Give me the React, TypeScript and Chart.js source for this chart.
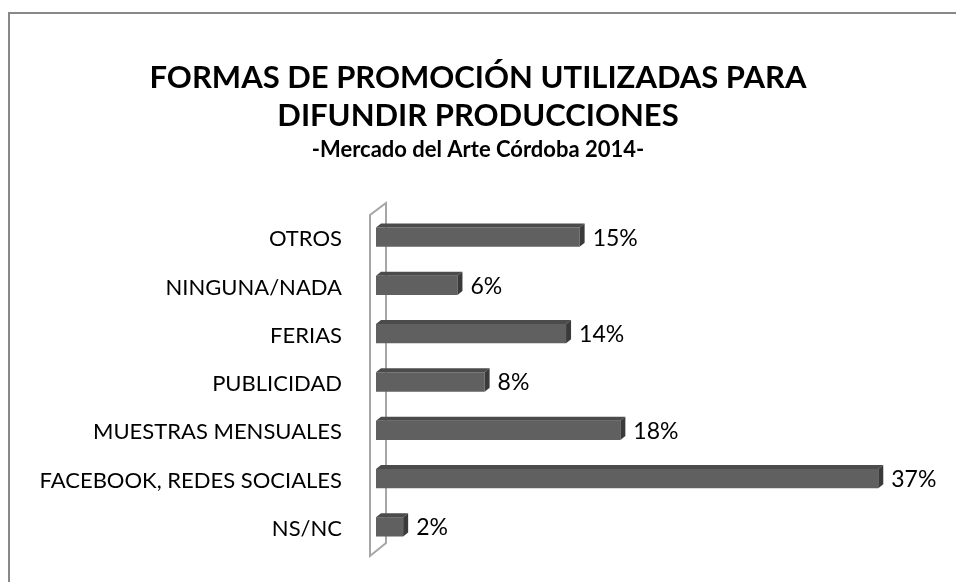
import React, { useEffect, useRef } from 'react';
import { Chart, registerables } from 'chart.js';

Chart.register(...registerables);

const categories = [
  'OTROS',
  'NINGUNA/NADA',
  'FERIAS',
  'PUBLICIDAD',
  'MUESTRAS MENSUALES',
  'FACEBOOK, REDES SOCIALES',
  'NS/NC',
];
const values = [15, 6, 14, 8, 18, 37, 2];
const titleLines = ['FORMAS DE PROMOCIÓN UTILIZADAS PARA', 'DIFUNDIR PRODUCCIONES'];
const subtitleText = '-Mercado del Arte Córdoba 2014-';
const xMin = 0;
const xMax = 40;

const FONT = 'Lato, "Open Sans", sans-serif';

const threeD = {
  id: 'threeD',
  beforeDraw(chart: any) {
    const ctx = chart.ctx;
    ctx.save();
    ctx.strokeStyle = '#888888';
    ctx.lineWidth = 2;
    ctx.strokeRect(9, 13, 2000, 2000);
    ctx.restore();
  },
  beforeDatasetsDraw(chart: any) {
    const ctx = chart.ctx;
    const x0 = chart.scales.x.getPixelForValue(0);
    const { top, bottom } = chart.chartArea;
    const fx = x0 - 6;
    const bx = x0 + 10;
    ctx.save();
    ctx.strokeStyle = '#a6a6a6';
    ctx.lineWidth = 2;
    ctx.beginPath();
    ctx.moveTo(fx, top + 2);
    ctx.lineTo(fx, bottom + 5);
    ctx.lineTo(bx, bottom - 8);
    ctx.lineTo(bx, top - 10);
    ctx.closePath();
    ctx.stroke();
    ctx.restore();
  },
  afterDatasetsDraw(chart: any) {
    const ctx = chart.ctx;
    const meta = chart.getDatasetMeta(0);
    const dx = 5;
    const dy = 4;
    ctx.save();
    meta.data.forEach((bar: any, i: number) => {
      const p = bar.getProps(['x', 'y', 'base', 'height'], true);
      const t = p.y - p.height / 2;
      const b = p.y + p.height / 2;
      ctx.fillStyle = '#4b4b4b';
      ctx.beginPath();
      ctx.moveTo(p.base, t);
      ctx.lineTo(p.base + dx, t - dy);
      ctx.lineTo(p.x + dx, t - dy);
      ctx.lineTo(p.x, t);
      ctx.closePath();
      ctx.fill();
      ctx.fillStyle = '#3a3a3a';
      ctx.beginPath();
      ctx.moveTo(p.x, t);
      ctx.lineTo(p.x + dx, t - dy);
      ctx.lineTo(p.x + dx, b - dy);
      ctx.lineTo(p.x, b);
      ctx.closePath();
      ctx.fill();
      ctx.fillStyle = '#000000';
      ctx.font = `23px ${FONT}`;
      ctx.textAlign = 'left';
      ctx.textBaseline = 'middle';
      ctx.fillText(`${values[i]}%`, p.x + 13, p.y + 1);
    });
    ctx.restore();
  },
};

export default function App() {
  const ref = useRef<HTMLCanvasElement | null>(null);
  useEffect(() => {
    if (!ref.current) return;
    const chart = new Chart(ref.current, {
      type: 'bar',
      data: {
        labels: categories,
        datasets: [
          {
            data: values,
            backgroundColor: '#606060',
            borderWidth: 0,
            categoryPercentage: 1,
            barPercentage: 0.4,
          },
        ],
      },
      options: {
        indexAxis: 'y',
        responsive: false,
        animation: false,
        layout: { padding: { left: 37, right: 37, top: 0, bottom: 31 } },
        plugins: {
          legend: { display: false },
          tooltip: { enabled: false },
          title: {
            display: true,
            text: titleLines,
            color: '#000000',
            font: { family: FONT, size: 31, weight: 'bold', lineHeight: '38px' },
            padding: { top: 59, bottom: 0 },
          },
          subtitle: {
            display: true,
            text: subtitleText,
            color: '#000000',
            font: { family: FONT, size: 22, weight: 'bold', lineHeight: '30px' },
            padding: { top: 0, bottom: 48 },
          },
        },
        scales: {
          x: { display: false, min: xMin, max: xMax },
          y: {
            grid: { display: false },
            border: { display: false },
            ticks: {
              color: '#000000',
              padding: 26,
              labelOffset: 2,
              font: { family: FONT, size: 22 },
            },
            afterFit: (s: any) => {
              s.width = 339;
              s.paddingTop = 0;
              s.paddingBottom = 0;
            },
          },
        },
      },
      plugins: [threeD],
    });
    return () => chart.destroy();
  }, []);
  return (
    <div style={{ position: 'fixed', left: 0, top: 0, width: 956, height: 582, background: '#fff' }}>
      <canvas ref={ref} width={956} height={582} style={{ display: 'block' }} />
    </div>
  );
}
